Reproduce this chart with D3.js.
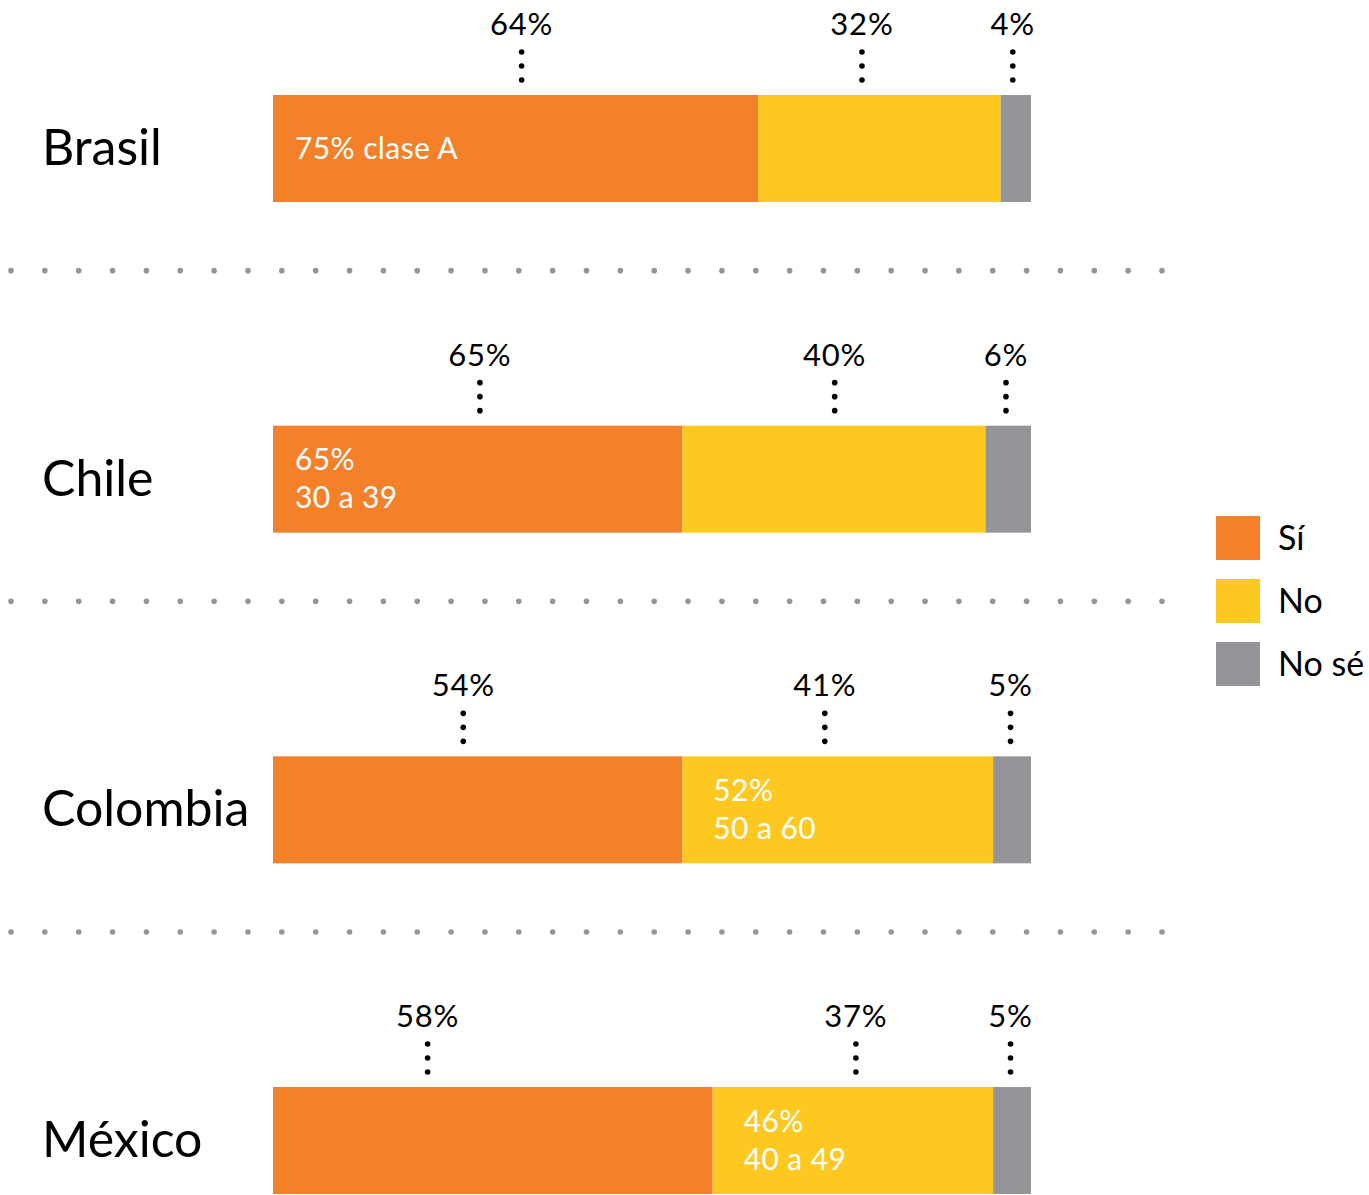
<!DOCTYPE html>
<html>
<head>
<meta charset="utf-8">
<script src="https://cdn.jsdelivr.net/npm/d3@7"></script>
<style>
  body { margin: 0; background: #fff; }
  svg { display: block; }
  text { font-family: "Lato", "Noto Sans", sans-serif; }
</style>
</head>
<body>
<svg id="chart" width="1369" height="1195"></svg>
<script>
// Survey answers per country (percent)
const countries = ["Brasil", "Chile", "Colombia", "México"];
const series = ["Sí", "No", "No sé"];
const siValues = [64, 54, 54, 58];
const noValues = [32, 40, 41, 37];
const noseValues = [4, 6, 5, 5];

// Callout labels printed above each bar, and where (in percent units) each points
const calloutLabels = [
  ["64%", "32%", "4%"],
  ["65%", "40%", "6%"],
  ["54%", "41%", "5%"],
  ["58%", "37%", "5%"]
];
const calloutAt = [
  [32.8, 77.7, 97.6],
  [27.3, 74.1, 96.7],
  [25.1, 72.8, 97.3],
  [20.4, 76.9, 97.3]
];

// Highlight notes written inside a segment
const noteSeries = ["Sí", "Sí", "No", "No"];
const noteLines = [
  ["75% clase A"],
  ["65%", "30 a 39"],
  ["52%", "50 a 60"],
  ["46%", "40 a 49"]
];

const colors = ["#F4812A", "#FDC921", "#939598"];

// ---- layout ----
const svg = d3.select("#chart");
const barH = 107;
const x = d3.scaleLinear().domain([0, 100]).range([273, 1031]);
const y = d3.scalePoint().domain(countries).range([95, 1087]);
const color = d3.scaleOrdinal().domain(series).range(colors);
const notePad = { "Sí": 22, "No": 31 };

const rows = countries.map((c, i) => {
  const vals = [siValues[i], noValues[i], noseValues[i]];
  let acc = 0;
  const segs = vals.map((v, j) => {
    const s = { country: c, key: series[j], x0: acc, x1: acc + v };
    acc += v;
    return s;
  });
  return { country: c, i, segs };
});

// dotted separators between rows
const sepDots = d3.range(35).map(k => 11 + k * (1151 / 34));
countries.slice(1).forEach(c => {
  svg.append("g").selectAll("circle").data(sepDots).join("circle")
    .attr("cx", d => d)
    .attr("cy", y(c) - 155)
    .attr("r", 2.8)
    .attr("fill", "#939598");
});

const row = svg.selectAll("g.row").data(rows).join("g")
  .attr("class", "row")
  .attr("transform", d => `translate(0,${y(d.country)})`);

// country names
row.append("text")
  .attr("x", 42)
  .attr("y", 70)
  .attr("font-size", 50)
  .attr("fill", "#000")
  .text(d => d.country);

// stacked segments
row.selectAll("rect").data(d => d.segs).join("rect")
  .attr("x", d => x(d.x0))
  .attr("width", d => x(d.x1) - x(d.x0))
  .attr("y", 0)
  .attr("height", barH)
  .attr("fill", d => color(d.key));

// callouts: value label + three dots leading to the bar
row.each(function (d) {
  const g = d3.select(this);
  calloutLabels[d.i].forEach((lab, j) => {
    const cx = x(calloutAt[d.i][j]);
    g.append("text")
      .attr("x", cx)
      .attr("y", -60)
      .attr("text-anchor", "middle")
      .attr("font-size", 31)
      .attr("letter-spacing", 0.8)
      .attr("fill", "#000")
      .text(lab);
    g.selectAll(null).data([-43, -29, -15]).join("circle")
      .attr("cx", cx)
      .attr("cy", dy => dy)
      .attr("r", 2.8)
      .attr("fill", "#000");
  });

  // note inside segment
  const seg = d.segs.find(s => s.key === noteSeries[d.i]);
  const lines = noteLines[d.i];
  const first = barH / 2 + 10 - (lines.length - 1) * 19;
  const t = g.append("text")
    .attr("font-size", 30)
    .attr("letter-spacing", 0.4)
    .attr("fill", "#fff");
  lines.forEach((ln, k) => {
    t.append("tspan")
      .attr("x", x(seg.x0) + notePad[seg.key])
      .attr("y", first + k * 38)
      .text(ln);
  });
});

// legend
const legend = svg.append("g").attr("transform", "translate(1216,516)");
const li = legend.selectAll("g").data(series).join("g")
  .attr("transform", (d, i) => `translate(0,${i * 63})`);
li.append("rect")
  .attr("width", 44).attr("height", 44)
  .attr("fill", d => color(d));
li.append("text")
  .attr("x", 62).attr("y", 34)
  .attr("font-size", 34)
  .attr("fill", "#000")
  .text(d => d);
</script>
</body>
</html>
